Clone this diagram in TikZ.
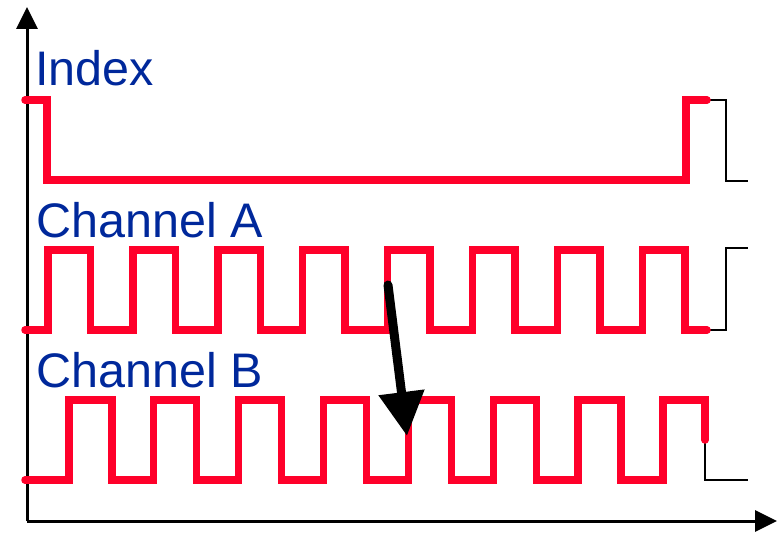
\documentclass[tikz,border=0pt]{standalone}
\usepackage{fontspec}
\setmainfont{Liberation Sans}
\usetikzlibrary{arrows.meta}
\definecolor{sigred}{RGB}{255,0,42}
\definecolor{labblue}{RGB}{0,40,155}
\tikzset{
  sig/.style={draw=sigred, line width=7.5pt, line cap=round, line join=miter},
  tail/.style={draw=black, line width=2.5pt},
  axis/.style={draw=black, line width=3pt, -{Triangle[length=22pt,width=21pt]}},
  lab/.style={anchor=base west, inner sep=0pt, text=labblue, font=\fontsize{48.5pt}{52pt}\selectfont},
  phase/.style={draw=black, line width=9pt, line cap=round, -{Triangle[length=44pt,width=44pt]}}
}
\begin{document}
\begin{tikzpicture}[x=1pt,y=-1pt]
\useasboundingbox (0,0) rectangle (777,535);
% axes
\coordinate (O) at (27,521);
\coordinate (Ytop) at (27,7);
\coordinate (Xend) at (777,521);
\draw[axis] (O) -- (Ytop);
\draw[axis] (O) -- (Xend);
% labels
\node[lab] (lidx) at (35,85) {Index};
\node[lab] (lA) at (36,237) {Channel A};
\node[lab] (lB) at (36,387) {Channel B};
% black continuation traces
\draw[tail] (707,100) -- (726,100) -- (726,181) -- (748,181);
\draw[tail] (707,330) -- (726,330) -- (726,248) -- (748,248);
\draw[tail] (705,440) -- (705,480) -- (748,480);
% Index
\draw[sig] (25,100) -- (47,100) -- (47,180) -- (686,180) -- (686,100) -- (707,100);
% Channel A
\draw[sig] (25,330) \foreach \k in {0,...,7} {
  -- ({48+84.9*\k},330) -- ({48+84.9*\k},250) -- ({90.5+84.9*\k},250) -- ({90.5+84.9*\k},330)
} -- (707,330);
% Channel B
\draw[sig] (25,480) \foreach \k in {0,...,6} {
  -- ({68.8+84.9*\k},480) -- ({68.8+84.9*\k},400) -- ({111.8+84.9*\k},400) -- ({111.8+84.9*\k},480)
} -- (663,480) -- (663,400) -- (705,400) -- (705,440);
% phase arrow
\coordinate (pa) at (388,285);
\coordinate (pb) at (407,436);
\draw[phase] (pa) -- (pb);
\end{tikzpicture}
\end{document}
